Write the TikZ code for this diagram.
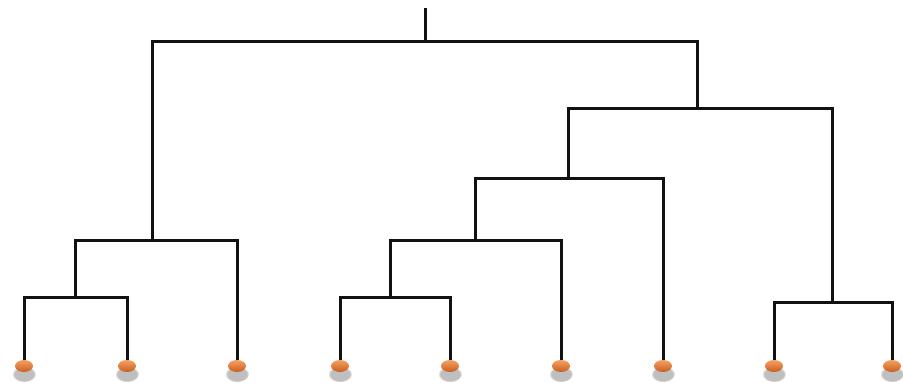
\documentclass[tikz,border=0pt]{standalone}
\usetikzlibrary{shapes.geometric,shadows}
\definecolor{leaftop}{RGB}{246,160,95}
\definecolor{leafmid}{RGB}{232,125,55}
\definecolor{leafbot}{RGB}{200,95,35}
\definecolor{linkblack}{RGB}{17,17,17}
\begin{document}
\begin{tikzpicture}[x=1pt,y=-1pt,
  link/.style={draw=linkblack,line width=3pt,line join=miter},
  leaf/.style={ellipse,minimum width=18pt,minimum height=12pt,inner sep=0pt,
    top color=leaftop,middle color=leafmid,bottom color=leafbot,
    general shadow={shadow scale=1.35,shadow xshift=0pt,shadow yshift=-6pt,
      fill=black,opacity=0.25,path fading={circle with fuzzy edge 20 percent}}},
]
\useasboundingbox (0,0) rectangle (903,383);

% merge points of the tree
\coordinate (a) at (75,297);
\coordinate (b) at (152,240);
\coordinate (c) at (390,297);
\coordinate (d) at (475,240);
\coordinate (e) at (568,178);
\coordinate (f) at (832,302);
\coordinate (g) at (697,108);
\coordinate (r) at (425,41);
\coordinate (top) at (425,8);

% leaves
\foreach \i/\x in {1/24,2/127,3/237,4/340,5/450,6/561,7/663,8/774,9/892}
  \coordinate (t\i) at (\x,362);

% links
\draw[link] (t1) |- (a) -| (t2);
\draw[link] (a) |- (b) -| (t3);
\draw[link] (t4) |- (c) -| (t5);
\draw[link] (c) |- (d) -| (t6);
\draw[link] (d) |- (e) -| (t7);
\draw[link] (t8) |- (f) -| (t9);
\draw[link] (e) |- (g) -| (f);
\draw[link] (b) |- (r) -| (g);
\draw[link] (r) -- (top);

\foreach \i/\x in {1/24,2/127,3/237,4/340,5/450,6/561,7/663,8/774,9/892}
  \node[leaf] (l\i) at (\x,366) {};
\end{tikzpicture}
\end{document}
